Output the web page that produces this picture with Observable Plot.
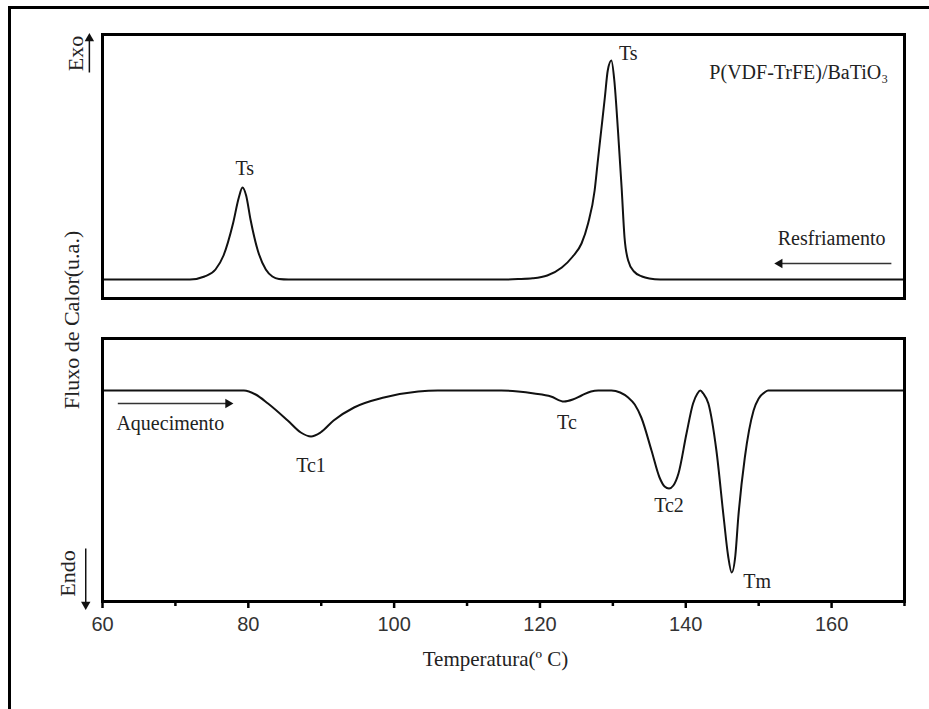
<!DOCTYPE html>
<html><head><meta charset="utf-8">
<script src="https://cdn.jsdelivr.net/npm/d3@7"></script>
<script src="https://cdn.jsdelivr.net/npm/@observablehq/plot@0.6"></script>
<style>
body{margin:0;background:#fff;}
#wrap{position:relative;width:929px;height:709px;overflow:hidden;background:#fff;}
#border{position:absolute;left:8px;top:6px;width:1000px;height:1000px;border-left:3px solid #000;border-top:3px solid #000;}
#top,#bot{position:absolute;left:0;}
#top{top:0;} #bot{top:300px;}
#ylab{position:absolute;left:72px;top:320px;transform:translate(-50%,-50%) rotate(-90deg);font-family:"Liberation Serif";font-size:22px;white-space:nowrap;color:#222;}
</style></head>
<body>
<div id="wrap"><div id="border"></div><div id="top"></div><div id="bot"></div><div id="ylab">Fluxo de Calor(u.a.)</div></div>
<script>
// Cooling curve (Resfriamento) – temperature (°C) and heat flow (a.u.)
const coolT = [60, 63, 66, 69, 71, 72, 74, 75.5, 76.6, 77.9, 78.7, 79.2, 79.7, 80.3, 81.3, 82.4, 83.3, 84.2, 85.5, 87, 90, 95, 100, 105, 110, 113, 115, 117, 119, 121, 123, 124.5, 125.7, 126.6, 127.5, 127.9, 128.4, 128.9, 129.3, 129.8, 130.2, 130.7, 131.2, 131.6, 132.1, 132.9, 134, 135, 136.5, 138, 142, 147, 152, 158, 164, 170];
const coolV = [0, 0, 0, 0, 0, 0, 3, 10, 24, 56, 82, 92, 84, 60, 29, 10, 3, 0.5, 0, 0, 0, 0, 0, 0, 0, 0, 0, 0.4, 1.2, 4, 12, 23, 36, 56, 89, 116, 149, 182, 209, 219, 199, 149, 92, 42, 19, 8, 3, 1, 0, 0, 0, 0, 0, 0, 0, 0];
// Heating curve (Aquecimento)
const heatT = [60, 79.4, 81, 82.7, 85.4, 87.2, 88.6, 89.9, 91.7, 94.5, 98.6, 103.3, 106, 114.7, 117, 119.2, 121.5, 123.3, 124.5, 125.7, 127, 128, 129.8, 131, 132.1, 133, 133.9, 135.3, 136.4, 137.1, 137.7, 138.3, 139, 140.1, 141, 141.6, 142, 142.4, 143.1, 144.2, 145.2, 145.8, 146.3, 146.8, 147.2, 148.1, 149.3, 150, 150.8, 151.3, 170];
const heatV = [0, 0, -4, -13, -30, -42, -46, -42, -30, -17, -7, -1, 0, 0, -1, -3, -6, -11, -9, -5, -1, 0, 0, -2, -7, -14, -27, -60, -87, -96, -98, -95, -83, -43, -13, -3, 0, -3, -13, -60, -127, -165, -182, -165, -127, -67, -20, -8, -2, 0, 0];

// Annotations
const topLabelText = ["Ts", "Ts", "P(VDF-TrFE)/BaTiO₃", "Resfriamento"];
const topLabelT = [79.5, 132.1, 155.5, 160];
const topLabelV = [111, 226, 207, 41];
const botLabelText = ["Aquecimento", "Tc1", "Tc", "Tc2", "Tm"];
const botLabelT = [69.3, 88.6, 123.7, 137.7, 149.8];
const botLabelV = [-33, -75, -32, -115, -191];

const majorTicks = [60, 80, 100, 120, 140, 160];
const minorTicks = [70, 90, 110, 130, 150, 170];
const xTitle = "Temperatura(º C)";

const coolRows = coolT.map((t, i) => ({t, v: coolV[i]}));
const heatRows = heatT.map((t, i) => ({t, v: heatV[i]}));
const topLabels = topLabelText.map((s, i) => ({s, t: topLabelT[i], v: topLabelV[i]}));
const botLabels = botLabelText.map((s, i) => ({s, t: botLabelT[i], v: botLabelV[i]}));

const serif = "Liberation Serif";
const ink = "#222";

const topPlot = Plot.plot({
  width: 929, height: 300,
  marginLeft: 102, marginRight: 25, marginTop: 34, marginBottom: 2,
  x: {domain: [60, 170], axis: null},
  y: {domain: [-19, 245], axis: null},
  style: {fontFamily: serif, background: "transparent", overflow: "visible", color: ink},
  marks: [
    Plot.line(coolRows, {x: "t", y: "v", curve: "monotone-x", stroke: "#111", strokeWidth: 2}),
    Plot.frame({stroke: "#000", strokeWidth: 3}),
    Plot.text(topLabels, {x: "t", y: "v", text: "s", fontSize: 20, fill: ink}),
    // Resfriamento arrow (pointing left)
    Plot.link([{x1: 168.2, x2: 152.6, y: 16}], {x1: "x1", x2: "x2", y1: "y", y2: "y", stroke: "#333", strokeWidth: 1.5}),
    Plot.dot([{x: 152.2, y: 16}], {x: "x", y: "y", symbol: "triangle", rotate: -90, r: 3.5, fill: "#111", stroke: "none", dx: 5}),
    // Exo label + up arrow
    Plot.text([{x: 56.3, y: 226, s: "Exo"}], {x: "x", y: "y", text: "s", rotate: -90, fontSize: 22, fill: ink}),
    Plot.link([{x: 58.2, y1: 207, y2: 244}], {x1: "x", x2: "x", y1: "y1", y2: "y2", stroke: "#111", strokeWidth: 1.5}),
    Plot.dot([{x: 58.2, y: 246}], {x: "x", y: "y", symbol: "triangle", r: 3.5, fill: "#111", stroke: "none", dy: 5})
  ]
});
document.getElementById("top").appendChild(topPlot);

const botPlot = Plot.plot({
  width: 929, height: 409,
  marginLeft: 102, marginRight: 25, marginTop: 38, marginBottom: 108,
  x: {domain: [60, 170], label: null},
  y: {domain: [-211, 52], axis: null},
  style: {fontFamily: serif, background: "transparent", overflow: "visible", color: ink},
  marks: [
    Plot.line(heatRows, {x: "t", y: "v", curve: "monotone-x", stroke: "#111", strokeWidth: 2}),
    Plot.frame({stroke: "#000", strokeWidth: 3}),
    Plot.axisX(majorTicks, {tickSize: 7, tickPadding: 8, strokeWidth: 2.5, stroke: "#000", fontSize: 20, fontFamily: "Liberation Sans", fill: "#333", label: null}),
    Plot.axisX(minorTicks, {tickSize: 5, strokeWidth: 2.5, stroke: "#000", tickFormat: () => "", label: null}),
    Plot.text([xTitle], {frameAnchor: "bottom", text: d => d, dy: 64, dx: -8, fontSize: 21, fill: ink}),
    Plot.text(botLabels, {x: "t", y: "v", text: "s", fontSize: 20, fill: ink}),
    // Aquecimento arrow (pointing right)
    Plot.link([{x1: 62.1, x2: 77.5, y: -13}], {x1: "x1", x2: "x2", y1: "y", y2: "y", stroke: "#333", strokeWidth: 1.5}),
    Plot.dot([{x: 77.9, y: -13}], {x: "x", y: "y", symbol: "triangle", rotate: 90, r: 3.5, fill: "#111", stroke: "none", dx: -5}),
    // Endo label + down arrow
    Plot.text([{x: 55.2, y: -183, s: "Endo"}], {x: "x", y: "y", text: "s", rotate: -90, fontSize: 22, fill: ink}),
    Plot.link([{x: 57.7, y1: -158, y2: -217}], {x1: "x", x2: "x", y1: "y1", y2: "y2", stroke: "#111", strokeWidth: 1.5}),
    Plot.dot([{x: 57.7, y: -219}], {x: "x", y: "y", symbol: "triangle", rotate: 180, r: 3.5, fill: "#111", stroke: "none", dy: -5})
  ]
});
document.getElementById("bot").appendChild(botPlot);
</script>
</body></html>
